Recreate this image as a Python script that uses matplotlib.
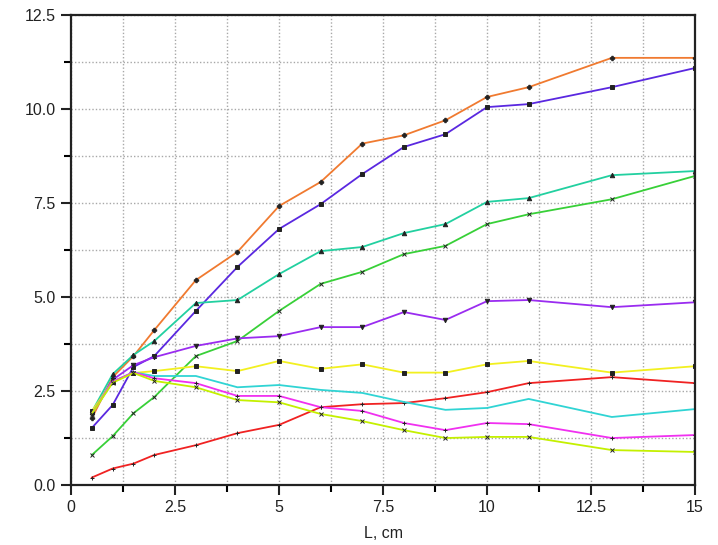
import matplotlib
matplotlib.use("Agg")
import matplotlib.pyplot as plt
from matplotlib.ticker import MultipleLocator

plt.rcParams['font.family'] = ['Liberation Sans', 'DejaVu Sans']

L = [0.5, 1, 1.5, 2, 3, 4, 5, 6, 7, 8, 9, 10, 11, 13, 15]

orange = [1.78, 2.87, 3.43, 4.12, 5.45, 6.2, 7.42, 8.06, 9.08, 9.3, 9.7, 10.32, 10.58, 11.36, 11.36]
indigo = [1.52, 2.13, 3.14, 3.43, 4.63, 5.8, 6.81, 7.47, 8.27, 8.99, 9.33, 10.05, 10.13, 10.58, 11.09]
teal = [1.95, 2.95, 3.46, 3.83, 4.84, 4.92, 5.61, 6.22, 6.33, 6.7, 6.94, 7.53, 7.63, 8.24, 8.35]
green = [0.8, 1.3, 1.91, 2.34, 3.43, 3.83, 4.63, 5.35, 5.67, 6.14, 6.36, 6.94, 7.2, 7.6, 8.22]
purple = [1.9, 2.8, 3.19, 3.4, 3.7, 3.9, 3.96, 4.2, 4.2, 4.6, 4.39, 4.89, 4.92, 4.73, 4.86]
yellow = [1.97, 2.75, 2.98, 3.03, 3.16, 3.03, 3.3, 3.09, 3.21, 2.99, 2.99, 3.21, 3.3, 2.99, 3.16]
red = [0.2, 0.44, 0.57, 0.8, 1.06, 1.38, 1.6, 2.07, 2.15, 2.18, 2.31, 2.47, 2.71, 2.87, 2.71]
cyan = [1.9, 2.75, 3.0, 2.9, 2.9, 2.6, 2.66, 2.53, 2.45, 2.21, 2.0, 2.05, 2.29, 1.81, 2.02]
magenta = [1.9, 2.75, 3.0, 2.84, 2.71, 2.37, 2.37, 2.07, 1.97, 1.65, 1.46, 1.65, 1.62, 1.25, 1.33]
ygreen = [1.9, 2.72, 2.98, 2.77, 2.6, 2.26, 2.2, 1.89, 1.7, 1.46, 1.25, 1.28, 1.28, 0.93, 0.88]

xtick_labels = ['0', '2.5', '5', '7.5', '10', '12.5', '15']
ytick_labels = ['0.0', '2.5', '5.0', '7.5', '10.0', '12.5']

series = [
    (orange, '#f07a30', 'P'),
    (indigo, '#5a28e0', 's'),
    (teal, '#22d0a0', '^'),
    (green, '#38d038', 'x'),
    (purple, '#9a2cf0', 'v'),
    (yellow, '#f2f020', 's'),
    (red, '#f02222', '+'),
    (cyan, '#30d4d4', None),
    (magenta, '#f030f0', '+'),
    (ygreen, '#c4f000', 'x'),
]

fig = plt.figure(figsize=(7.18, 5.45), dpi=100)
ax = fig.add_axes([0.099, 0.110, 0.869, 0.8625])

for ys, col, mk in series:
    ax.plot(L, ys, color=col, lw=1.3, marker=mk, ms=3.2, mec='#222222',
            mfc='#222222' if mk in ('s', '^', 'v', 'P') else 'none', mew=0.7)

ax.set_xlim(0, 15)
ax.set_ylim(0, 12.5)
ax.xaxis.set_minor_locator(MultipleLocator(1.25))
ax.yaxis.set_minor_locator(MultipleLocator(1.25))
ax.set_xticks([0, 2.5, 5, 7.5, 10, 12.5, 15])
ax.set_xticklabels(xtick_labels)
ax.set_yticks([0, 2.5, 5, 7.5, 10, 12.5])
ax.set_yticklabels(ytick_labels)
ax.grid(which='both', color='#a8a8a8', linestyle=(0, (1, 1.5)), lw=1)
ax.set_axisbelow(True)
ax.tick_params(which='major', direction='out', length=7, width=1.5, labelsize=11.5,
               colors='#222222', pad=4)
ax.tick_params(which='minor', direction='out', length=5, width=1.5)
for s in ax.spines.values():
    s.set_linewidth(1.6)
    s.set_color('#222222')
ax.set_xlabel('L, cm', fontsize=11.5, color='#222222', labelpad=8)

fig.savefig('out.png', dpi=100)
